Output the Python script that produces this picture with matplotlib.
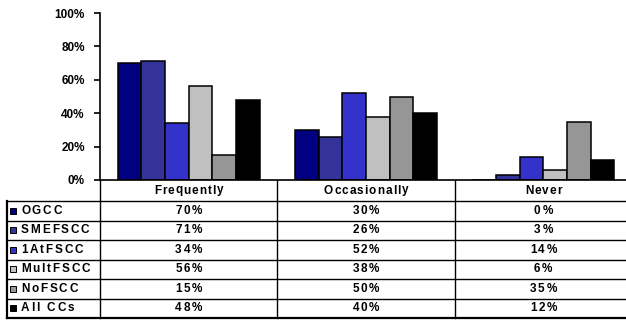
import matplotlib
matplotlib.use('Agg')
import matplotlib.pyplot as plt
from matplotlib.patches import Rectangle
from matplotlib.font_manager import FontProperties

categories = ['Frequently', 'Occasionally', 'Never']
series = ['OGCC', 'SMEFSCC', '1AtFSCC', 'MultFSCC', 'NoFSCC', 'All CCs']
ogcc = [70, 30, 0]
smefscc = [71, 26, 3]
at1fscc = [34, 52, 14]
multfscc = [56, 38, 6]
nofscc = [15, 50, 35]
allccs = [48, 40, 12]
values = [ogcc, smefscc, at1fscc, multfscc, nofscc, allccs]
colors = ['#000080', '#333399', '#3333cc', '#c0c0c0', '#969696', '#000000']
yticks = [0, 20, 40, 60, 80, 100]

plt.rcParams['font.family'] = ['Liberation Sans', 'DejaVu Sans']

W, H = 626, 320
FS = 8.5
fig = plt.figure(figsize=(W / 100, H / 100), dpi=100)
renderer = fig.canvas.get_renderer()
boldfont = FontProperties(family=['Liberation Sans', 'DejaVu Sans'], weight='bold', size=FS)


def px_box(x0, y0, x1, y1):
    # pixel box (top-left origin) -> figure fraction rect
    return [x0 / W, 1 - y1 / H, (x1 - x0) / W, (y1 - y0) / H]


def spaced_text(ax, x, y, s, spacing, ha='center'):
    # draw s one glyph at a time with extra tracking (ax units are pixels)
    widths = []
    for ch in s:
        if ch == ' ':
            widths.append(0.28 * FS * 100 / 72)
        else:
            widths.append(renderer.get_text_width_height_descent(ch, boldfont, ismath=False)[0])
    total = sum(widths) + spacing * (len(s) - 1)
    x0 = x - total / 2 if ha == 'center' else x
    for ch, w in zip(s, widths):
        if ch != ' ':
            ax.text(x0, y, ch, ha='left', va='center', fontproperties=boldfont)
        x0 += w + spacing


# plot area; the last column runs past the right edge of the figure
plot_left, plot_right = 100, 632
ax = fig.add_axes(px_box(plot_left, 13, plot_right, 180))
n = len(series)
bw = 0.8 / n
for i, (vals, c) in enumerate(zip(values, colors)):
    xs = [k - 0.4 + bw * (i + 0.5) for k in range(len(categories))]
    ax.bar(xs, vals, width=bw, color=c, edgecolor='black', linewidth=1.1)

ax.set_xlim(-0.5, len(categories) - 0.5)
ax.set_ylim(0, 100)
ax.set_yticks(yticks)
ax.set_yticklabels([f'{t}%' for t in yticks], fontsize=FS, fontweight='bold')
ax.set_xticks([])
ax.spines[['top', 'right']].set_visible(False)
ax.spines['left'].set_linewidth(1.2)
ax.spines['bottom'].set_linewidth(1.2)
ax.tick_params(axis='y', length=4, width=1.2, pad=7)

# data table underneath, laid out in pixel units
tax = fig.add_axes(px_box(0, 180, W + 10, 320))
tax.set_xlim(0, W + 10)
tax.set_ylim(320, 180)
tax.axis('off')

col_w = (plot_right - plot_left) / len(categories)
col_edges = [plot_left + k * col_w for k in range(len(categories) + 1)]
row_top = 201
row_h = 19.5
row_edges = [row_top + r * row_h for r in range(n + 1)]
lab_left = 7

for x in col_edges:
    tax.plot([x, x], [180, row_edges[-1]], color='black', lw=1.0)
for y in row_edges[:-1]:
    tax.plot([lab_left, col_edges[-1]], [y, y], color='black', lw=1.0)
tax.plot([lab_left, col_edges[-1]], [row_edges[-1], row_edges[-1]], color='black', lw=1.6)
tax.plot([lab_left, lab_left], [row_top, row_edges[-1]], color='black', lw=1.6)

for k, cat in enumerate(categories):
    spaced_text(tax, (col_edges[k] + col_edges[k + 1]) / 2, 190.5, cat, 1.0)

for r, (name, vals, c) in enumerate(zip(series, values, colors)):
    yc = row_edges[r] + row_h / 2
    tax.add_patch(Rectangle((9.5, yc - 3), 6, 6, facecolor=c, edgecolor='black', lw=0.7))
    spaced_text(tax, 21, yc, name, 1.8, ha='left')
    for k, v in enumerate(vals):
        spaced_text(tax, (col_edges[k] + col_edges[k + 1]) / 2, yc, f'{v}%', 1.8)

fig.savefig('out.png', dpi=100)
